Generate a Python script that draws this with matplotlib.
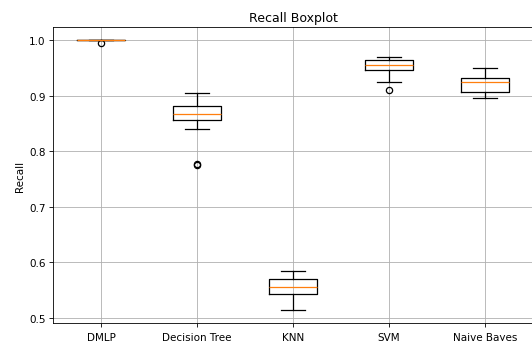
import matplotlib
matplotlib.use("Agg")
import matplotlib.pyplot as plt

# Recall per model
models = ["DMLP", "Decision Tree", "KNN", "SVM", "Naive Bayes"]
whisker_low = [1.000, 0.840, 0.515, 0.926, 0.896]
q1 = [1.000, 0.856, 0.543, 0.947, 0.907]
medians = [1.000, 0.867, 0.556, 0.956, 0.925]
q3 = [1.000, 0.882, 0.570, 0.965, 0.932]
whisker_high = [1.000, 0.906, 0.585, 0.970, 0.951]
outliers = [[0.9946], [0.775, 0.777], [], [0.911], []]

stats = [
    dict(label=m, whislo=lo, q1=a, med=md, q3=b, whishi=hi, fliers=fl)
    for m, lo, a, md, b, hi, fl in zip(models, whisker_low, q1, medians,
                                       q3, whisker_high, outliers)
]

# reference looks like a downscaled default figure -> render at 75 dpi
DPI = 75
fig = plt.figure(figsize=(532 / DPI, 342 / DPI), dpi=DPI)
# axes runs to the right edge of the (cropped) canvas
ax = fig.add_axes([53 / 532, 18 / 342, 480 / 532, 296 / 342])

lw = 1.2
ax.bxp(
    stats, showfliers=True,
    boxprops=dict(linewidth=lw),
    whiskerprops=dict(linewidth=lw),
    capprops=dict(linewidth=lw),
    medianprops=dict(linewidth=lw, color="C1"),
    flierprops=dict(markeredgewidth=lw),
)
ax.set_title("Recall Boxplot")
ax.set_ylabel("Recall")
ax.grid(True)
ax.tick_params(axis="x", pad=5)

fig.savefig("out.png", dpi=DPI)
